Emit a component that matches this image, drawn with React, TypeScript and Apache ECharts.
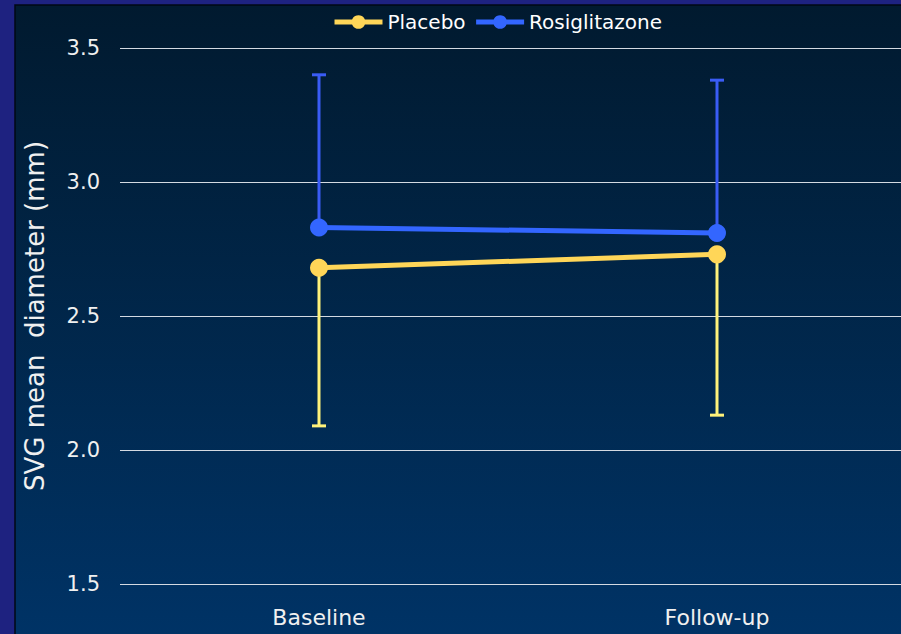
import React, { useEffect, useRef } from "react";
import * as echarts from "echarts";

const categories = ["Baseline", "Follow-up"];
const placeboMeans = [2.68, 2.73];
const placeboLower = [2.09, 2.13];
const rosiMeans = [2.83, 2.81];
const rosiUpper = [3.4, 3.38];
const yTicks = { min: 1.5, max: 3.5, interval: 0.5 };

const FONT = "DejaVu Sans";
const YELLOW = "#ffd658";
const YELLOW_ERR = "#fff27a";
const BLUE = "#3366ff";
const BLUE_ERR = "#3a5cf5";

function errSeries(name: string, means: number[], ends: number[], color: string) {
  return {
    type: "custom",
    name,
    z: 1,
    silent: true,
    data: means.map((m, i) => [i, m, ends[i]]),
    renderItem: (params: any, api: any) => {
      const x = api.value(0);
      const p0 = api.coord([x, api.value(1)]);
      const p1 = api.coord([x, api.value(2)]);
      const cap = 7;
      const style = { stroke: color, lineWidth: 3 };
      return {
        type: "group",
        children: [
          { type: "line", shape: { x1: p0[0], y1: p0[1], x2: p1[0], y2: p1[1] }, style },
          { type: "line", shape: { x1: p1[0] - cap, y1: p1[1], x2: p1[0] + cap, y2: p1[1] }, style },
        ],
      };
    },
  };
}

export default function App() {
  const ref = useRef<HTMLDivElement>(null);
  useEffect(() => {
    if (!ref.current) return;
    const chart = echarts.init(ref.current, undefined, { renderer: "svg" });
    chart.setOption({
      animation: false,
      backgroundColor: "#1e2280",
      graphic: [
        {
          type: "rect",
          z: -10,
          silent: true,
          shape: { x: 15, y: 5, width: 890, height: 634 },
          style: {
            fill: new echarts.graphic.LinearGradient(0, 0, 0, 1, [
              { offset: 0, color: "#011a2f" },
              { offset: 1, color: "#003366" },
            ]),
            stroke: "#000814",
            lineWidth: 1.5,
          },
        },
      ],
      legend: {
        data: ["Placebo", "Rosiglitazone"],
        top: 7,
        left: 327,
        itemWidth: 48,
        itemHeight: 17,
        itemGap: 8,
        lineStyle: { width: 5 },
        textStyle: { color: "#ffffff", fontFamily: FONT, fontSize: 20 },
      },
      grid: { left: 120, top: 48, right: -15, bottom: 50, outerBoundsMode: "none", containLabel: false },
      xAxis: {
        type: "category",
        data: categories,
        boundaryGap: true,
        axisLine: { show: false },
        axisTick: { show: false },
        axisLabel: { color: "#f0f0f0", fontFamily: FONT, fontSize: 22, margin: 22 },
      },
      yAxis: {
        type: "value",
        min: yTicks.min,
        max: yTicks.max,
        interval: yTicks.interval,
        name: "SVG mean  diameter (mm)",
        nameLocation: "middle",
        nameGap: 72,
        nameTextStyle: { color: "#f0f0f0", fontFamily: FONT, fontSize: 26 },
        axisLine: { show: false },
        axisTick: { show: false },
        axisLabel: {
          color: "#f0f0f0",
          fontFamily: FONT,
          fontSize: 21,
          margin: 20,
          formatter: (v: number) => v.toFixed(1),
        },
        splitLine: { lineStyle: { color: "#d4dae2", width: 1 } },
      },
      series: [
        errSeries("Placebo err", placeboMeans, placeboLower, YELLOW_ERR),
        errSeries("Rosiglitazone err", rosiMeans, rosiUpper, BLUE_ERR),
        {
          type: "line",
          name: "Placebo",
          z: 3,
          data: placeboMeans,
          symbol: "circle",
          symbolSize: 18,
          lineStyle: { color: YELLOW, width: 5 },
          itemStyle: { color: YELLOW },
        },
        {
          type: "line",
          name: "Rosiglitazone",
          z: 3,
          data: rosiMeans,
          symbol: "circle",
          symbolSize: 18,
          lineStyle: { color: BLUE, width: 5 },
          itemStyle: { color: BLUE },
        },
      ],
    });
    return () => chart.dispose();
  }, []);
  return (
    <div
      ref={ref}
      style={{ position: "fixed", left: 0, top: 0, width: 901, height: 634 }}
    />
  );
}
